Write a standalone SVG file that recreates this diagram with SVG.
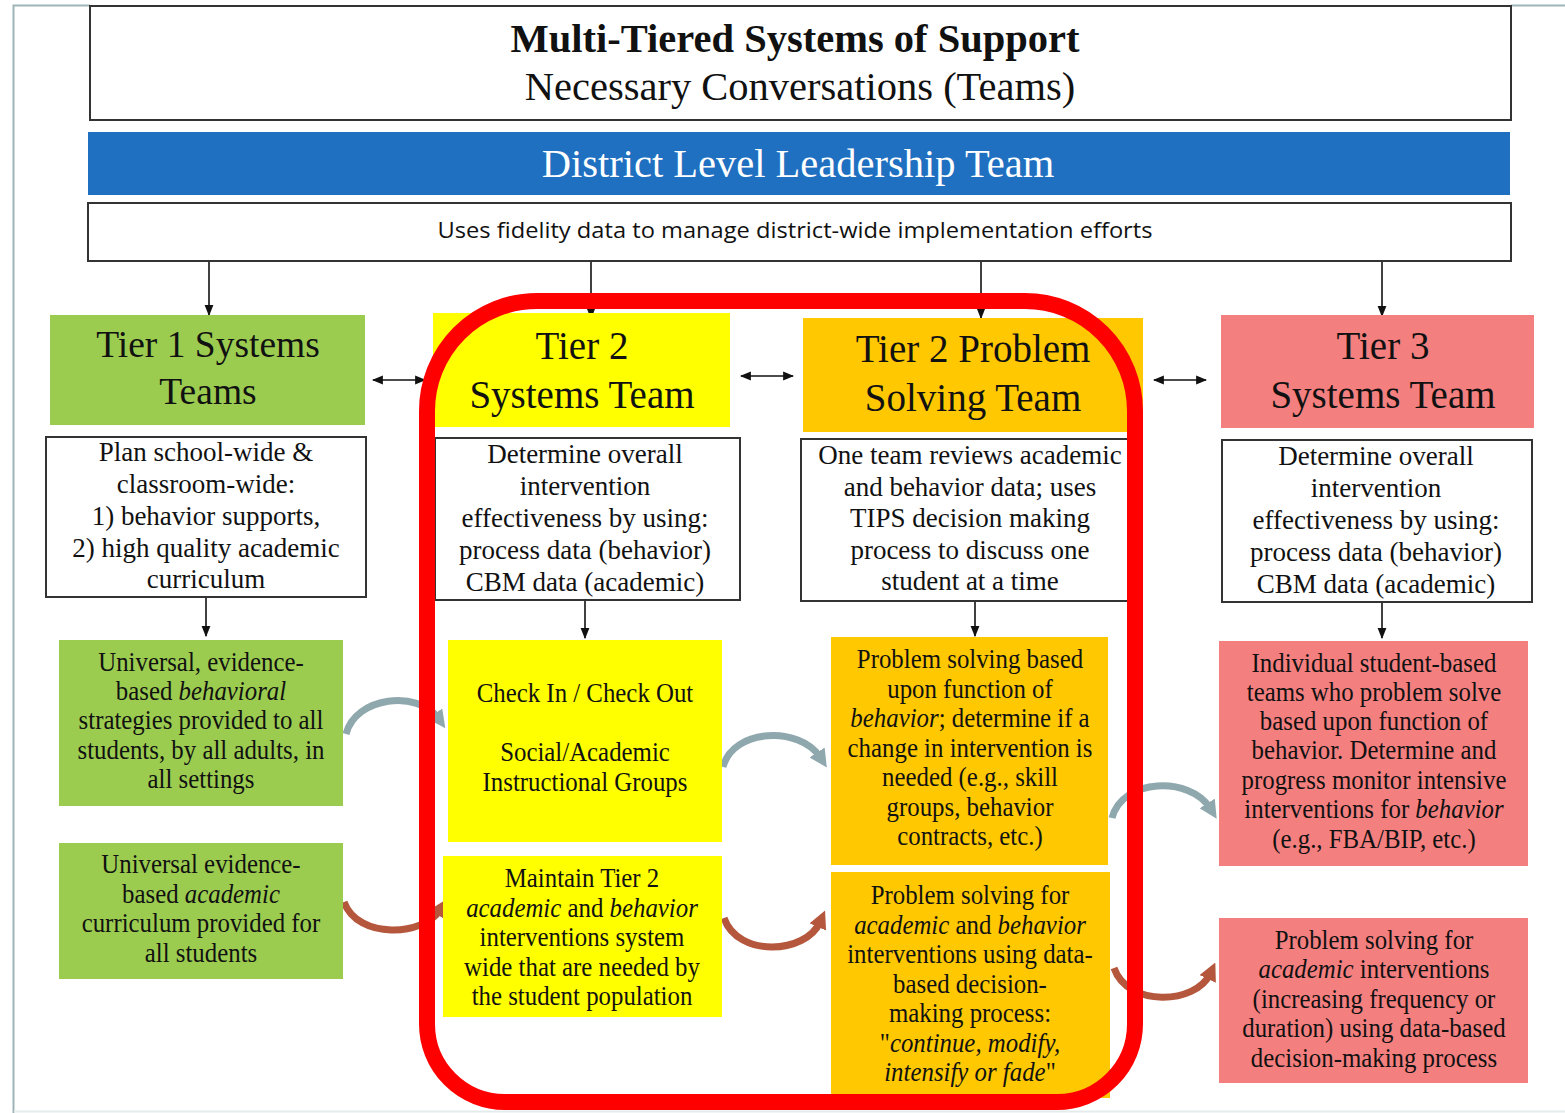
<svg xmlns="http://www.w3.org/2000/svg" width="1565" height="1113" viewBox="0 0 1565 1113">
<style>
.frame{fill:none;stroke:#9fb5b5;stroke-width:2}
.box{fill:#fff;stroke:#333;stroke-width:2}
.green{fill:#9bcc50}
.yellow{fill:#ffff00}
.gold{fill:#ffc800}
.pink{fill:#f47f7f}
.t{font-family:"Liberation Serif","Times New Roman",serif;fill:#111;text-anchor:middle}
.hdr{font-size:39px}
.w{font-size:27px}
.s{font-size:27px}
.conn{stroke:#111;stroke-width:1.6;fill:none}
.garc{stroke:#8fa8ae;stroke-width:7;fill:none}
.barc{stroke:#b5573c;stroke-width:7;fill:none}
</style>
<defs>
<marker id="ah" viewBox="0 0 10 10" refX="9" refY="5" markerWidth="11" markerHeight="11" markerUnits="userSpaceOnUse" orient="auto-start-reverse"><path d="M0,1 L10,5 L0,9 z" fill="#111"/></marker>
<marker id="ga" viewBox="0 0 10 10" refX="3" refY="5" markerWidth="18" markerHeight="18" markerUnits="userSpaceOnUse" orient="auto"><path d="M0,0 L10,5 L0,10 z" fill="#8fa8ae"/></marker>
<marker id="ba" viewBox="0 0 10 10" refX="3" refY="5" markerWidth="18" markerHeight="18" markerUnits="userSpaceOnUse" orient="auto"><path d="M0,0 L10,5 L0,10 z" fill="#b5573c"/></marker>
</defs>
<rect width="1565" height="1113" fill="#fff"/>
<g id="frame">
<path class="frame" d="M13.5 1113 V5.5 H90 M1511 5.5 H1565"/>
<path d="M14 1111.5 H1565" stroke="#e4ecec" stroke-width="2"/>
</g>
<g id="title">
<rect class="box" x="90" y="6" width="1421" height="114"/>
<text class="t" x="795" y="52" font-size="40.5" font-weight="bold">Multi-Tiered Systems of Support</text>
<text class="t" x="800" y="100" font-size="40.5">Necessary Conversations (Teams)</text>
</g>
<g id="district">
<rect x="88" y="132" width="1422" height="63" fill="#1f70c1"/>
<text class="t" x="798" y="177" font-size="40.5" style="fill:#fff">District Level Leadership Team</text>
</g>
<g id="uses">
<rect class="box" x="88" y="203" width="1423" height="58"/>
<text x="795" y="238" font-family="'Open Sans','Liberation Sans',sans-serif" font-size="21" fill="#111" text-anchor="middle" textLength="715" lengthAdjust="spacingAndGlyphs">Uses fidelity data to manage district-wide implementation efforts</text>
</g>
<g id="connectors">
<line class="conn" x1="209" y1="262" x2="209" y2="315" marker-end="url(#ah)"/>
<line class="conn" x1="591" y1="262" x2="591" y2="318" marker-end="url(#ah)"/>
<line class="conn" x1="981" y1="262" x2="981" y2="318" marker-end="url(#ah)"/>
<line class="conn" x1="1382" y1="262" x2="1382" y2="316" marker-end="url(#ah)"/>
<line class="conn" x1="373" y1="380" x2="425" y2="380" marker-start="url(#ah)" marker-end="url(#ah)"/>
<line class="conn" x1="741" y1="376" x2="793" y2="376" marker-start="url(#ah)" marker-end="url(#ah)"/>
<line class="conn" x1="1154" y1="380" x2="1206" y2="380" marker-start="url(#ah)" marker-end="url(#ah)"/>
<line class="conn" x1="206" y1="597" x2="206" y2="636" marker-end="url(#ah)"/>
<line class="conn" x1="585" y1="600" x2="585" y2="638" marker-end="url(#ah)"/>
<line class="conn" x1="975" y1="601" x2="975" y2="636" marker-end="url(#ah)"/>
<line class="conn" x1="1382" y1="602" x2="1382" y2="638" marker-end="url(#ah)"/>
<path class="garc" d="M346 734 C356 696 418 690 438 718" marker-end="url(#ga)"/>
<path class="garc" d="M723 767 C733 728 800 726 820 757" marker-end="url(#ga)"/>
<path class="garc" d="M1112 818 C1122 778 1190 776 1210 808" marker-end="url(#ga)"/>
<path class="barc" d="M344 902 C358 940 424 936 440 910" marker-end="url(#ba)"/>
<path class="barc" d="M724 918 C738 958 806 954 820 922" marker-end="url(#ba)"/>
<path class="barc" d="M1114 968 C1128 1008 1196 1004 1210 974" marker-end="url(#ba)"/>
</g>
<g id="tier1-header">
<rect class="green" x="50" y="315" width="315" height="110"/>
<text class="t" x="208" y="357" font-size="37.5">Tier 1 Systems</text>
<text class="t" x="208" y="404" font-size="37.5">Teams</text>
</g>
<g id="tier2-header">
<rect class="yellow" x="433" y="313" width="297" height="114"/>
<text class="t hdr" x="582" y="359">Tier 2</text>
<text class="t hdr" x="582" y="408">Systems Team</text>
</g>
<g id="ps-header">
<rect class="gold" x="803" y="318" width="340" height="114"/>
<text class="t hdr" x="973" y="362">Tier 2 Problem</text>
<text class="t hdr" x="973" y="411">Solving Team</text>
</g>
<g id="tier3-header">
<rect class="pink" x="1221" y="315" width="313" height="113"/>
<text class="t hdr" x="1383" y="359">Tier 3</text>
<text class="t hdr" x="1383" y="408">Systems Team</text>
</g>
<g id="tier1-desc">
<rect class="box" x="46" y="437" width="320" height="160"/>
<text class="t w" x="206" y="461">Plan school-wide &amp;</text>
<text class="t w" x="206" y="493">classroom-wide:</text>
<text class="t w" x="206" y="525">1) behavior supports,</text>
<text class="t w" x="206" y="557">2) high quality academic</text>
<text class="t w" x="206" y="588">curriculum</text>
</g>
<g id="tier2-desc">
<rect class="box" x="435" y="438" width="305" height="162"/>
<text class="t w" x="585" y="463">Determine overall</text>
<text class="t w" x="585" y="495">intervention</text>
<text class="t w" x="585" y="527">effectiveness by using:</text>
<text class="t w" x="585" y="559">process data (behavior)</text>
<text class="t w" x="585" y="591">CBM data (academic)</text>
</g>
<g id="ps-desc">
<rect class="box" x="801" y="439" width="329" height="162"/>
<text class="t w" x="970" y="464">One team reviews academic</text>
<text class="t w" x="970" y="496">and behavior data; uses</text>
<text class="t w" x="970" y="527">TIPS decision making</text>
<text class="t w" x="970" y="559">process to discuss one</text>
<text class="t w" x="970" y="590">student at a time</text>
</g>
<g id="tier3-desc">
<rect class="box" x="1222" y="440" width="310" height="162"/>
<text class="t w" x="1376" y="465">Determine overall</text>
<text class="t w" x="1376" y="497">intervention</text>
<text class="t w" x="1376" y="529">effectiveness by using:</text>
<text class="t w" x="1376" y="561">process data (behavior)</text>
<text class="t w" x="1376" y="593">CBM data (academic)</text>
</g>
<g id="tier1-behavior">
<rect class="green" x="59" y="640" width="284" height="166"/>
<g transform="matrix(0.92 0 0 1 16.08 0)">
<text class="t s" x="201" y="671">Universal, evidence-</text>
<text class="t s" x="201" y="700">based <tspan font-style="italic">behavioral</tspan></text>
<text class="t s" x="201" y="729">strategies provided to all</text>
<text class="t s" x="201" y="759">students, by all adults, in</text>
<text class="t s" x="201" y="788">all settings</text>
</g>
</g>
<g id="tier1-academic">
<rect class="green" x="59" y="843" width="284" height="136"/>
<g transform="matrix(0.92 0 0 1 16.08 0)">
<text class="t s" x="201" y="873">Universal evidence-</text>
<text class="t s" x="201" y="903">based <tspan font-style="italic">academic</tspan></text>
<text class="t s" x="201" y="932">curriculum provided for</text>
<text class="t s" x="201" y="962">all students</text>
</g>
</g>
<g id="tier2-cico">
<rect class="yellow" x="448" y="640" width="274" height="202"/>
<g transform="matrix(0.92 0 0 1 46.8 0)">
<text class="t s" x="585" y="702">Check In / Check Out</text>
<text class="t s" x="585" y="761">Social/Academic</text>
<text class="t s" x="585" y="791">Instructional Groups</text>
</g>
</g>
<g id="tier2-maintain">
<rect class="yellow" x="443" y="856" width="279" height="161"/>
<g transform="matrix(0.92 0 0 1 46.56 0)">
<text class="t s" x="582" y="887">Maintain Tier 2</text>
<text class="t s" x="582" y="917"><tspan font-style="italic">academic</tspan> and <tspan font-style="italic">behavior</tspan></text>
<text class="t s" x="582" y="946">interventions system</text>
<text class="t s" x="582" y="976">wide that are needed by</text>
<text class="t s" x="582" y="1005">the student population</text>
</g>
</g>
<g id="ps-behavior">
<rect class="gold" x="831" y="637" width="277" height="228"/>
<g transform="matrix(0.92 0 0 1 77.6 0)">
<text class="t s" x="970" y="668">Problem solving based</text>
<text class="t s" x="970" y="698">upon function of</text>
<text class="t s" x="970" y="727"><tspan font-style="italic">behavior</tspan>; determine if a</text>
<text class="t s" x="970" y="757">change in intervention is</text>
<text class="t s" x="970" y="786">needed (e.g., skill</text>
<text class="t s" x="970" y="816">groups, behavior</text>
<text class="t s" x="970" y="845">contracts, etc.)</text>
</g>
</g>
<g id="ps-academic">
<rect class="gold" x="831" y="872" width="279" height="226"/>
<g transform="matrix(0.92 0 0 1 77.6 0)">
<text class="t s" x="970" y="904">Problem solving for</text>
<text class="t s" x="970" y="934"><tspan font-style="italic">academic</tspan> and <tspan font-style="italic">behavior</tspan></text>
<text class="t s" x="970" y="963">interventions using data-</text>
<text class="t s" x="970" y="993">based decision-</text>
<text class="t s" x="970" y="1022">making process:</text>
<text class="t s" x="970" y="1052">"<tspan font-style="italic">continue, modify,</tspan></text>
<text class="t s" x="970" y="1081"><tspan font-style="italic">intensify or fade</tspan>"</text>
</g>
</g>
<g id="tier3-behavior">
<rect class="pink" x="1219" y="641" width="309" height="225"/>
<g transform="matrix(0.92 0 0 1 109.92 0)">
<text class="t s" x="1374" y="672">Individual student-based</text>
<text class="t s" x="1374" y="701">teams who problem solve</text>
<text class="t s" x="1374" y="730">based upon function of</text>
<text class="t s" x="1374" y="759">behavior. Determine and</text>
<text class="t s" x="1374" y="789">progress monitor intensive</text>
<text class="t s" x="1374" y="818">interventions for <tspan font-style="italic">behavior</tspan></text>
<text class="t s" x="1374" y="848">(e.g., FBA/BIP, etc.)</text>
</g>
</g>
<g id="tier3-academic">
<rect class="pink" x="1219" y="918" width="309" height="165"/>
<g transform="matrix(0.92 0 0 1 109.92 0)">
<text class="t s" x="1374" y="949">Problem solving for</text>
<text class="t s" x="1374" y="978"><tspan font-style="italic">academic</tspan> interventions</text>
<text class="t s" x="1374" y="1008">(increasing frequency or</text>
<text class="t s" x="1374" y="1037">duration) using data-based</text>
<text class="t s" x="1374" y="1067">decision-making process</text>
</g>
</g>
<g id="highlight">
<path d="M537 301 H1025 A110 110 0 0 1 1135 411 V1024 A78 78 0 0 1 1057 1102 H505 A78 78 0 0 1 427 1024 V411 A110 110 0 0 1 537 301 Z" fill="none" stroke="#ff0000" stroke-width="16"/>
</g>
</svg>
